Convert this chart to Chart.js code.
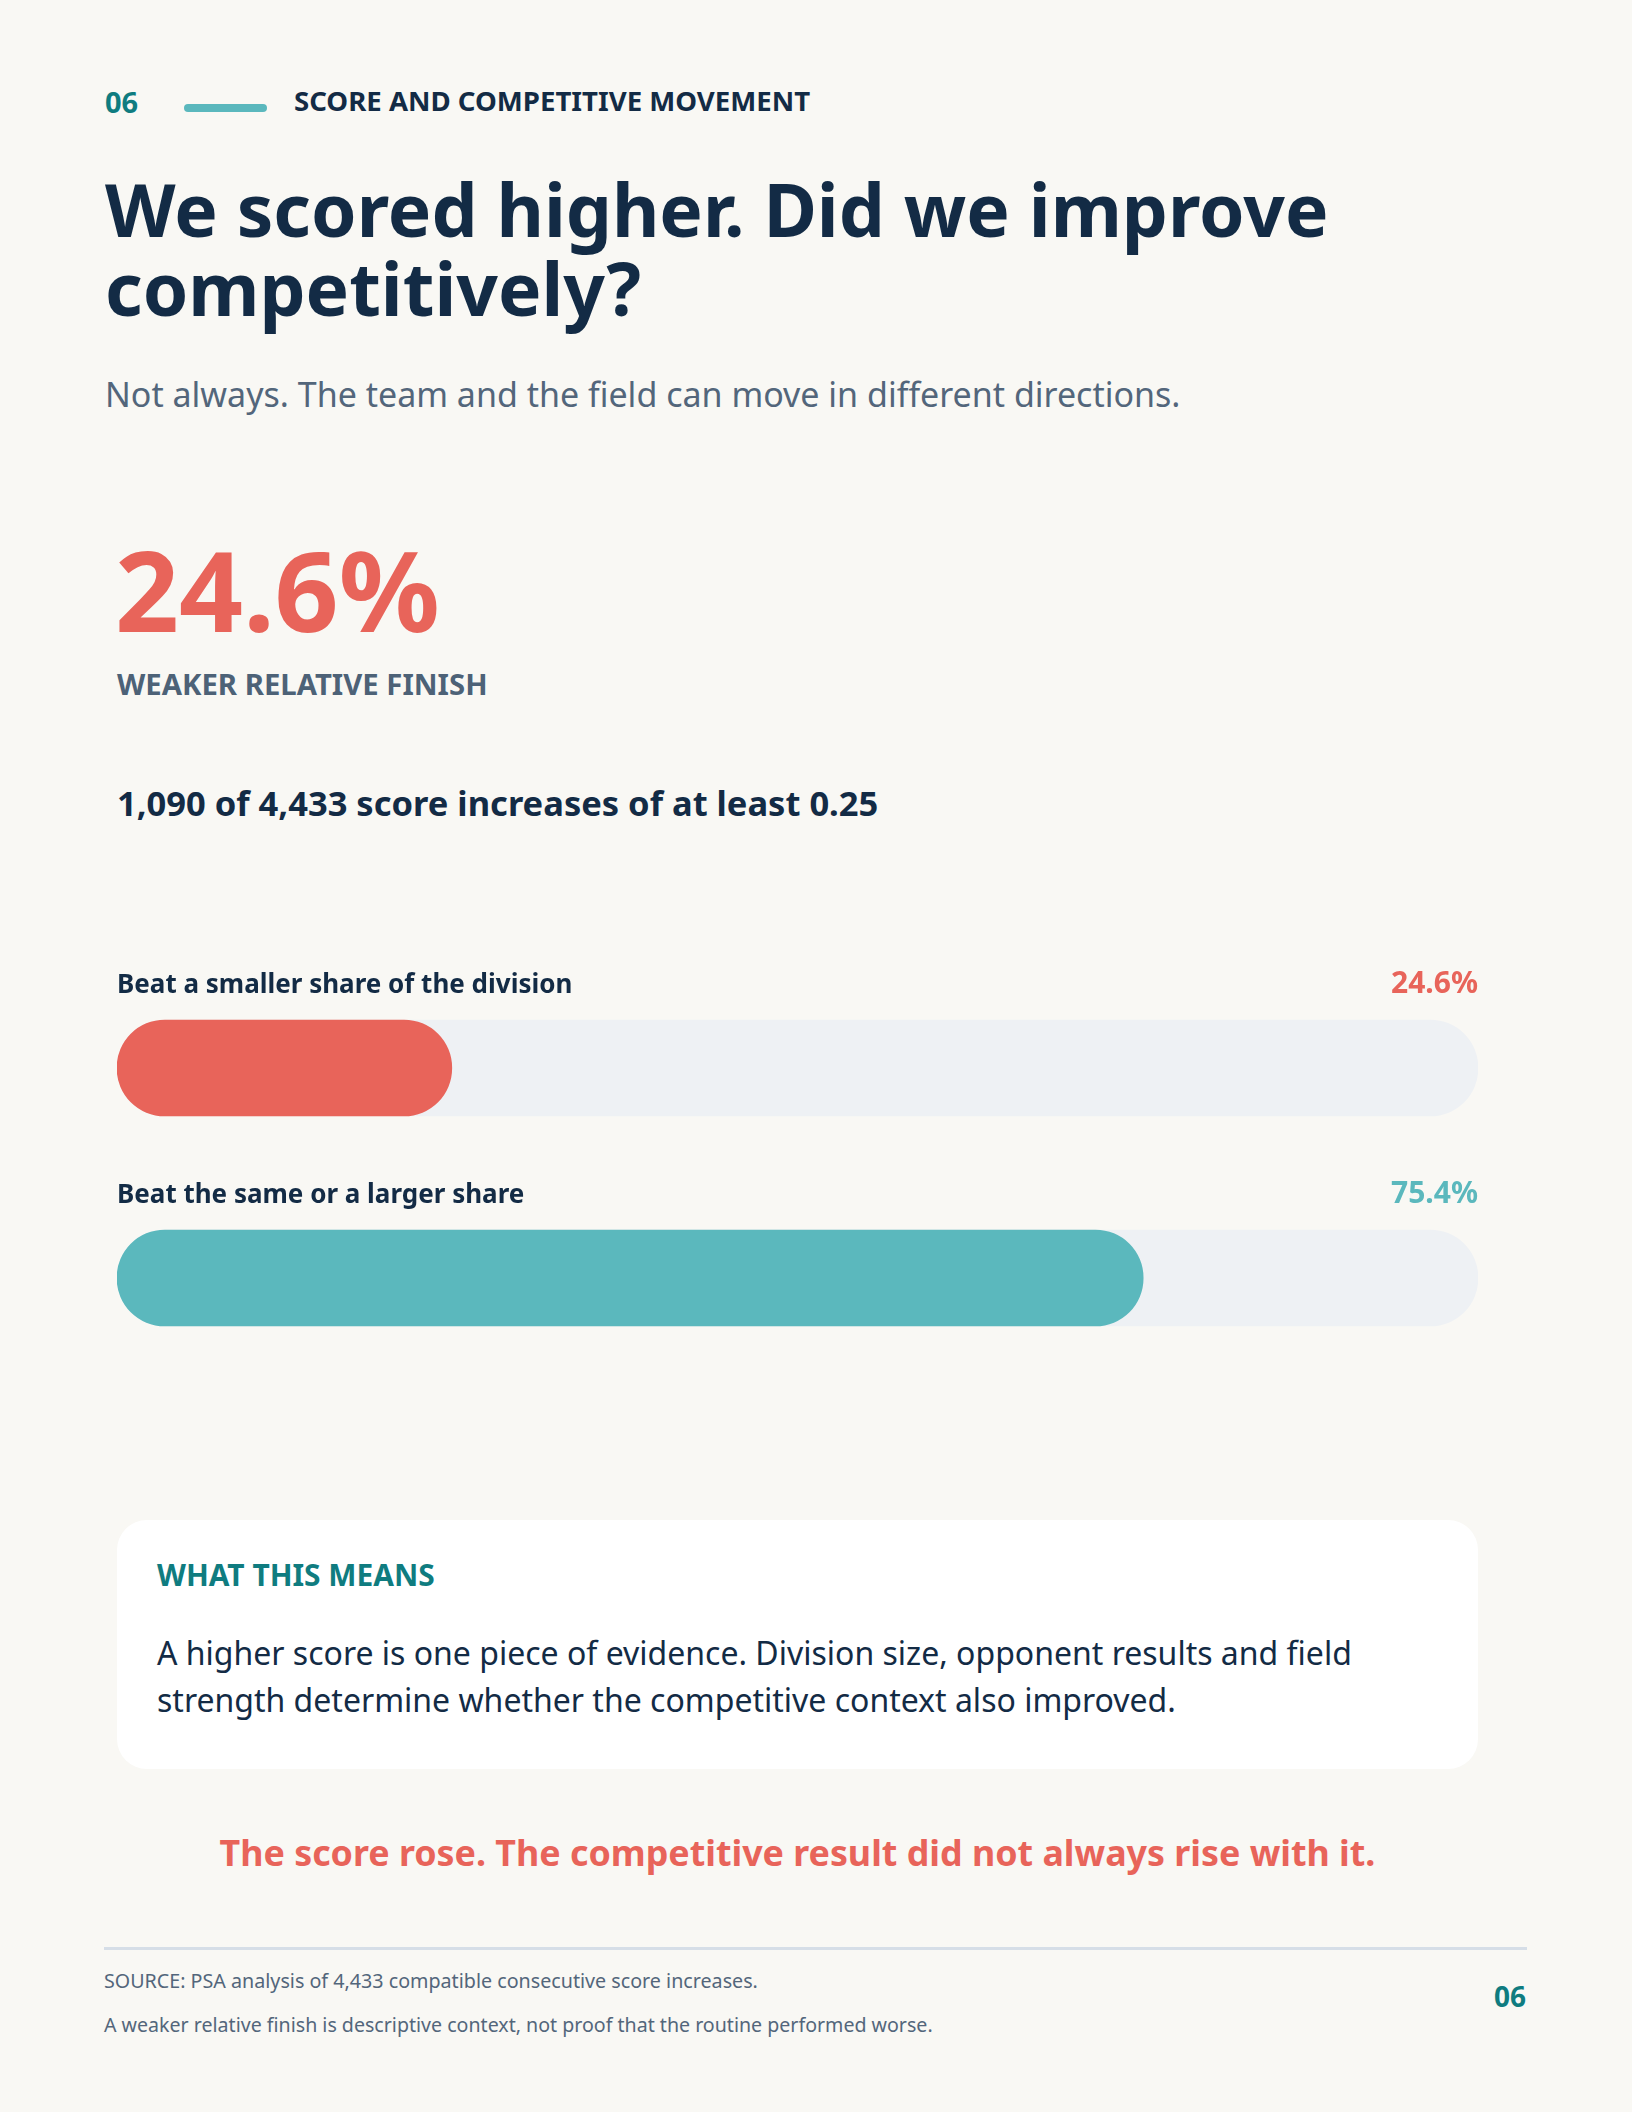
<!DOCTYPE html>
<html>
<head>
<meta charset="utf-8">
<script src="https://cdn.jsdelivr.net/npm/chart.js@4.4.0/dist/chart.umd.min.js"></script>
<style>
  html, body { margin: 0; padding: 0; }
  body { width: 1632px; height: 2112px; background: #f9f8f4; position: relative; overflow: hidden;
         font-family: "Noto Sans", "Open Sans", sans-serif; }
  .t { position: absolute; white-space: nowrap; line-height: 1; }
</style>
</head>
<body>
<script>
// ---- data ----
const categories = ['Beat a smaller share of the division', 'Beat the same or a larger share'];
const shares = [24.6, 75.4];
const trackValues = [100, 100];
const valueLabels = ['24.6%', '75.4%'];
</script>

<div class="t" style="left:105px;top:87px;font-size:29px;font-weight:700;color:#0f7c80;">06</div>
<div style="position:absolute;left:184px;top:104px;width:83px;height:8px;border-radius:4px;background:#5bb8bd;"></div>
<div class="t" style="left:294px;top:87px;font-size:27.6px;font-weight:700;color:#132b45;">SCORE AND COMPETITIVE MOVEMENT</div>

<div class="t" style="left:105px;top:172px;font-size:73px;font-weight:700;color:#132b45;">We scored higher. Did we improve</div>
<div class="t" style="left:105px;top:251px;font-size:73px;font-weight:700;color:#132b45;">competitively?</div>

<div class="t" style="left:105px;top:377px;font-size:34px;color:#53667b;">Not always. The team and the field can move in different directions.</div>

<div class="t" style="left:115px;top:533px;font-size:112px;font-weight:700;color:#e8645a;">24.6%</div>
<div class="t" style="left:117px;top:670px;font-size:29.3px;font-weight:700;color:#4d6277;">WEAKER RELATIVE FINISH</div>
<div class="t" style="left:117px;top:786px;font-size:34.5px;font-weight:700;color:#132b45;">1,090 of 4,433 score increases of at least 0.25</div>

<div id="chartBox" style="position:absolute;left:117px;top:963px;width:1361px;height:420px;">
  <canvas id="c"></canvas>
</div>

<div style="position:absolute;left:117px;top:1520px;width:1361px;height:249px;background:#ffffff;border-radius:30px;"></div>
<div class="t" style="left:157px;top:1560px;font-size:29.9px;font-weight:700;color:#0f7c80;">WHAT THIS MEANS</div>
<div class="t" style="left:157px;top:1637px;font-size:32px;color:#132b45;">A higher score is one piece of evidence. Division size, opponent results and field</div>
<div class="t" style="left:157px;top:1684px;font-size:32px;color:#132b45;">strength determine whether the competitive context also improved.</div>

<div class="t" style="left:117px;width:1361px;text-align:center;top:1835px;font-size:35.8px;font-weight:700;color:#e8645a;">The score rose. The competitive result did not always rise with it.</div>

<div style="position:absolute;left:104px;top:1947px;width:1423px;height:3px;background:#d6dee7;"></div>
<div class="t" style="left:104px;top:1971px;font-size:19.7px;color:#53667b;">SOURCE: PSA analysis of 4,433 compatible consecutive score increases.</div>
<div class="t" style="left:104px;top:2015px;font-size:19.6px;color:#53667b;">A weaker relative finish is descriptive context, not proof that the routine performed worse.</div>
<div class="t" style="right:106px;top:1982px;font-size:28px;font-weight:700;color:#0f7c80;">06</div>

<script>
const fillColors = ['#e8645a', '#5bb8bd'];
const labelPlugin = {
  id: 'barLabels',
  afterDatasetsDraw(chart) {
    const ctx = chart.ctx;
    const meta = chart.getDatasetMeta(0);
    const area = chart.chartArea;
    ctx.save();
    ctx.textBaseline = 'alphabetic';
    meta.data.forEach((bar, i) => {
      const y = bar.y - bar.height / 2 - 27;
      ctx.font = '700 26px "Noto Sans", sans-serif';
      ctx.fillStyle = '#132b45';
      ctx.textAlign = 'left';
      ctx.fillText(categories[i], area.left, y);
      ctx.font = '700 30px "Noto Sans", sans-serif';
      ctx.fillStyle = fillColors[i];
      ctx.textAlign = 'right';
      ctx.fillText(valueLabels[i], area.right, y);
    });
    ctx.restore();
  }
};

new Chart(document.getElementById('c'), {
  type: 'bar',
  data: {
    labels: categories,
    datasets: [
      {
        data: shares,
        backgroundColor: fillColors,
        borderRadius: 48,
        borderSkipped: false,
        barThickness: 96,
        grouped: false,
        order: 1
      },
      {
        data: trackValues,
        backgroundColor: '#eef1f4',
        borderRadius: 48,
        borderSkipped: false,
        barThickness: 96,
        grouped: false,
        order: 2
      }
    ]
  },
  options: {
    indexAxis: 'y',
    responsive: true,
    maintainAspectRatio: false,
    animation: false,
    layout: { padding: 0 },
    plugins: { legend: { display: false }, tooltip: { enabled: false } },
    scales: {
      x: { display: false, min: 0, max: 100 },
      y: { display: false }
    }
  },
  plugins: [labelPlugin]
});
</script>
</body>
</html>
